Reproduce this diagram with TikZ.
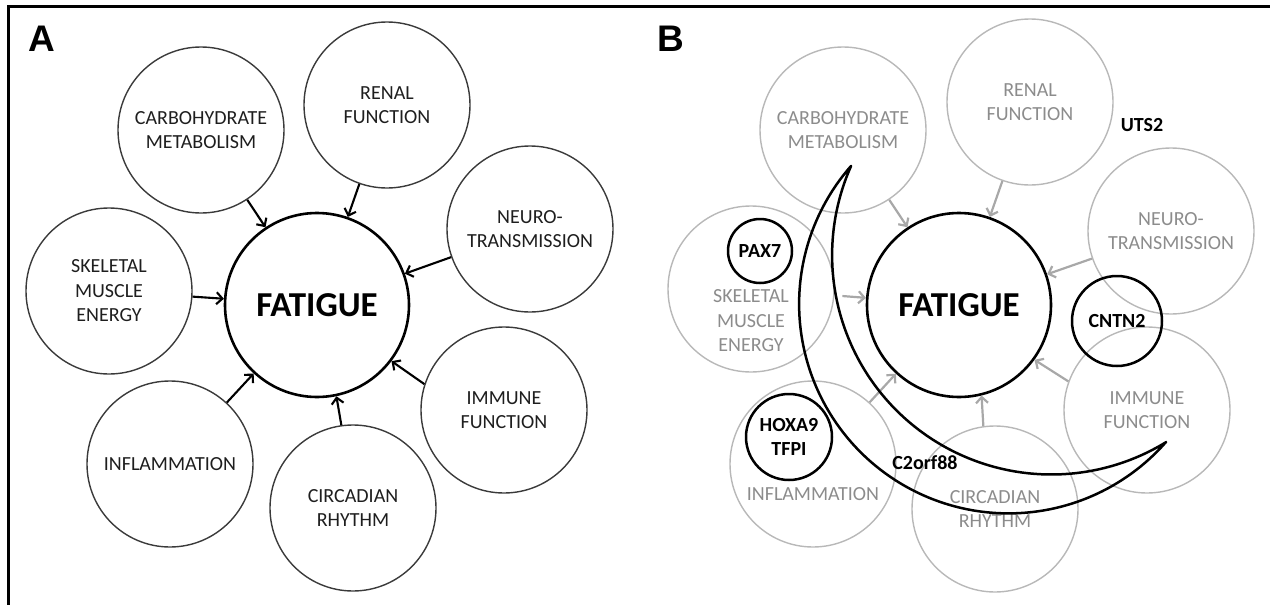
\documentclass[tikz,border=0pt]{standalone}
\usepackage{fontspec}
\setmainfont{Carlito}
\newfontfamily\panelfont{Liberation Sans}
\usetikzlibrary{arrows.meta}
\definecolor{lineA}{HTML}{3A3A3A}
\definecolor{txtA}{HTML}{1E1E1E}
\definecolor{lineB}{HTML}{B8B8B8}
\definecolor{txtB}{HTML}{8C8C8C}
\definecolor{arrB}{HTML}{A8A8A8}
\newcommand\satfont{\fontsize{20}{24.5}\selectfont}
\newcommand\genefont{\fontsize{20}{24.5}\selectfont\bfseries}
\begin{document}
\begin{tikzpicture}[x=1pt,y=-1pt,
  satA/.style={circle, draw=lineA, line width=1.4pt, minimum size=166pt, inner sep=0pt, align=center, text=txtA, font=\satfont},
  satB/.style={circle, draw=lineB, line width=1.4pt, minimum size=166pt, inner sep=0pt, align=center, text=txtB, font=\satfont},
  txtBstyle/.style={align=center, text=txtB, font=\satfont, inner sep=0pt},
  fat/.style={circle, draw=black, line width=2.6pt, minimum size=184pt, inner sep=0pt, font=\fontsize{35}{42}\selectfont\bfseries},
  gene/.style={circle, draw=black, line width=2.5pt, inner sep=0pt, align=center, font=\genefont},
  genetxt/.style={inner sep=0pt, align=center, font=\genefont},
  panel/.style={inner sep=0pt, font=\panelfont\bfseries\fontsize{37}{44}\selectfont},
  arrA/.style={draw=black, line width=2.1pt, -{Straight Barb[length=6pt,width=12pt]}},
  arrBs/.style={draw=arrB, line width=2.2pt, -{Straight Barb[length=6pt,width=12pt]}},
  moon/.style={draw=black, line width=2.5pt, line join=round}
]
\useasboundingbox (0,0) rectangle (1270,605);
% frame
\draw[line width=2.5pt] (8.5,605) -- (8.5,6.5) -- (1270,6.5);

% ---------------- Panel A ----------------
\node[panel] (labA) at (42,38.5) {A};
\node[fat] (FA) at (317,305) {FATIGUE};
\node[satA] (carbA) at (201,130) {CARBOHYDRATE\\METABOLISM};
\node[satA] (renA) at (387,105) {RENAL\\FUNCTION};
\node[satA] (neuA) at (530,229) {NEURO-\\TRANSMISSION};
\node[satA] (skA) at (109,291) {SKELETAL\\MUSCLE\\ENERGY};
\node[satA] (immA) at (504,410) {IMMUNE\\FUNCTION};
\node[satA] (infA) at (170,464) {INFLAMMATION};
\node[satA] (cirA) at (353,508) {CIRCADIAN\\RHYTHM};
\draw[arrA] (carbA) -- (FA);
\draw[arrA] (renA) -- (FA);
\draw[arrA] (neuA) -- (FA);
\draw[arrA] (skA) -- (FA);
\draw[arrA] (immA.162) -- (FA.-37);
\draw[arrA] (infA) -- (FA);
\draw[arrA] (cirA.98) -- (FA.-78);

% ---------------- Panel B ----------------
\node[panel] (labB) at (670.5,38.5) {B};
\node[satB] (carbB) at (843,130) {CARBOHYDRATE\\METABOLISM};
\node[satB] (renB) at (1030,102) {RENAL\\FUNCTION};
\node[satB] (neuB) at (1171,231) {NEURO-\\TRANSMISSION};
\node[satB] (skB) at (751,289) {};
\node[txtBstyle] (skBt) at (751,321) {SKELETAL\\MUSCLE\\ENERGY};
\node[satB] (immB) at (1147,410) {IMMUNE\\FUNCTION};
\node[satB] (infB) at (813,464) {};
\node[txtBstyle] (infBt) at (813,494) {INFLAMMATION};
\node[satB] (cirB) at (995,509) {CIRCADIAN\\RHYTHM};
\node[fat] (FB) at (959,305) {FATIGUE};
\draw[arrBs] (carbB) -- (FB);
\draw[arrBs] (renB) -- (FB);
\draw[arrBs] (neuB) -- (FB);
\draw[arrBs, shorten <=8pt] (skB) -- (FB);
\draw[arrBs] (immB.160) -- (FB.-36);
\draw[arrBs] (infB) -- (FB);
\draw[arrBs] (cirB.98) -- (FB.-76);

\node[gene, minimum size=64pt] (pax) at (760,251) {PAX7};
\node[gene, minimum size=90pt] (cntn) at (1117,321) {CNTN2};
\node[gene, minimum size=86pt] (hox) at (789,437) {HOXA9\\TFPI};
\node[genetxt] (uts) at (1142,125) {UTS2};
\node[genetxt] (c2) at (925,463) {C2orf88};

% crescent: outer semicircle and inner circular arc sharing the two tips
\draw[moon] plot[domain=180:0, samples=90, smooth] ({1008.5+157.5*cos(\x)-138.0*sin(\x)}, {304+138.0*cos(\x)+157.5*sin(\x)})
  -- plot[domain=58.5:204, samples=90, smooth] ({1051.4+219.3*cos(\x)}, {255.2+219.3*sin(\x)}) -- cycle;
\end{tikzpicture}
\end{document}
